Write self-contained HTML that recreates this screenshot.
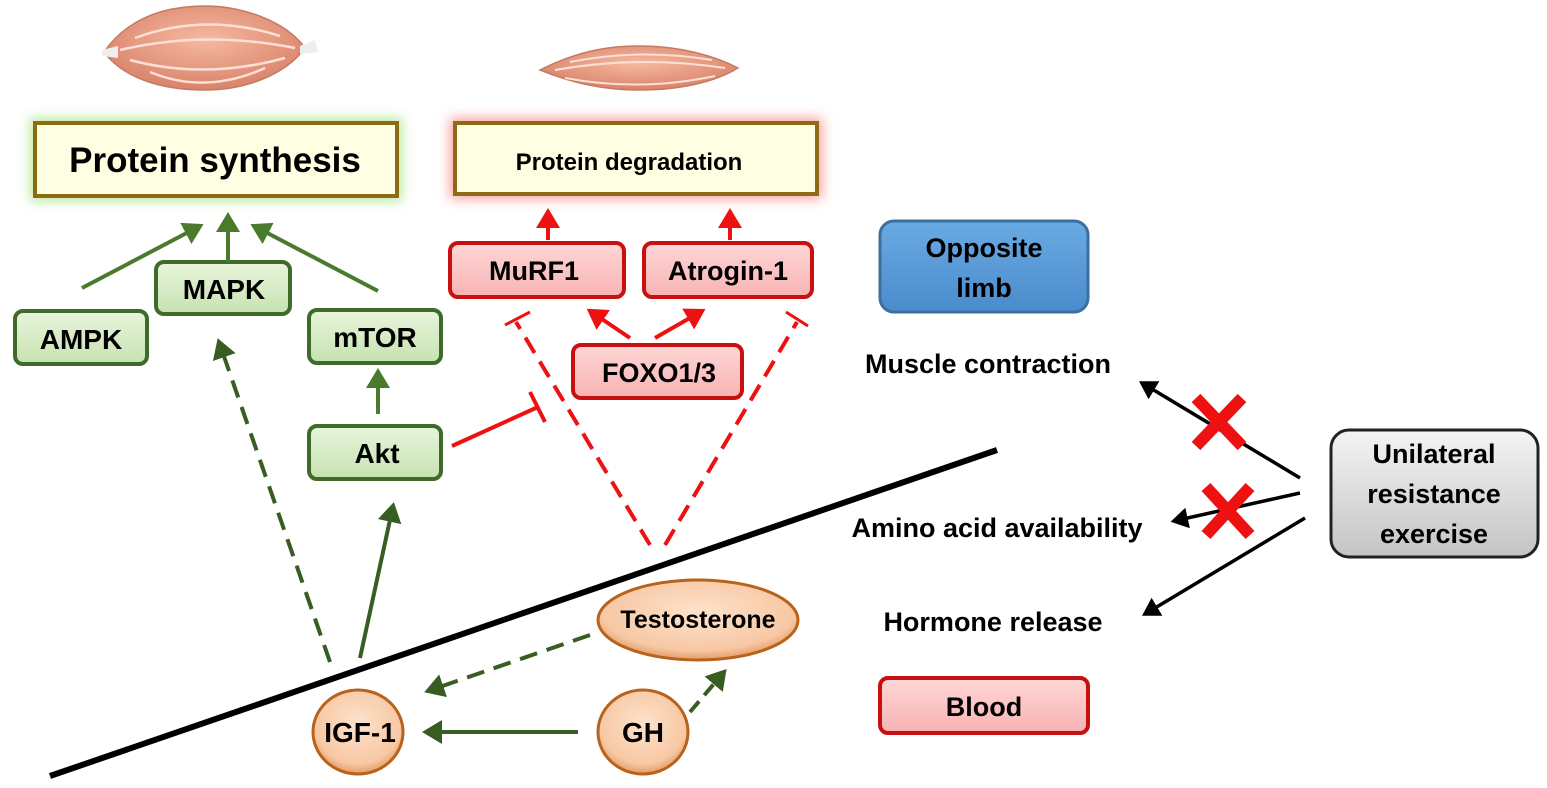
<!DOCTYPE html>
<html><head><meta charset="utf-8"><style>
html,body{margin:0;padding:0;background:#fff;}
svg{display:block;font-family:"Liberation Sans",Arial,sans-serif;font-weight:bold;}
</style></head><body>
<svg width="1547" height="788" viewBox="0 0 1547 788" xmlns="http://www.w3.org/2000/svg">
<defs>
<radialGradient id="mus" cx="50%" cy="40%" r="60%"><stop offset="0" stop-color="#f6b9a0"/><stop offset="1" stop-color="#d9826a"/></radialGradient>
<linearGradient id="gr" x1="0" y1="0" x2="0" y2="1"><stop offset="0" stop-color="#e8f5dc"/><stop offset="1" stop-color="#c6e2b0"/></linearGradient>
<linearGradient id="rd" x1="0" y1="0" x2="0" y2="1"><stop offset="0" stop-color="#ffd6d6"/><stop offset="1" stop-color="#f7b3b3"/></linearGradient>
<linearGradient id="gy" x1="0" y1="0" x2="0" y2="1"><stop offset="0" stop-color="#f4f4f4"/><stop offset="1" stop-color="#c4c4c4"/></linearGradient>
<linearGradient id="bl" x1="0" y1="0" x2="0" y2="1"><stop offset="0" stop-color="#6aaae3"/><stop offset="1" stop-color="#4a8bcc"/></linearGradient>
<radialGradient id="ov" cx="50%" cy="40%" r="60%"><stop offset="0" stop-color="#fde2cc"/><stop offset="0.8" stop-color="#f7c8a4"/><stop offset="1" stop-color="#e59a62"/></radialGradient>
<filter id="gg" x="-20%" y="-40%" width="140%" height="180%"><feGaussianBlur stdDeviation="6"/></filter>
<marker id="ag" markerWidth="6" markerHeight="6" refX="4" refY="3" orient="auto" markerUnits="strokeWidth"><path d="M0,0 L5,3 L0,6 z" fill="#4a7a2c"/></marker>
<marker id="agd" markerWidth="6" markerHeight="6" refX="4" refY="3" orient="auto" markerUnits="strokeWidth"><path d="M0,0 L5,3 L0,6 z" fill="#385d23"/></marker>
<marker id="ar" markerWidth="6" markerHeight="6" refX="4" refY="3" orient="auto" markerUnits="strokeWidth"><path d="M0,0 L5,3 L0,6 z" fill="#ee1111"/></marker>
<marker id="ab" markerWidth="6" markerHeight="6" refX="4" refY="3" orient="auto" markerUnits="strokeWidth"><path d="M0,0 L5,3 L0,6 z" fill="#000"/></marker>
</defs>

<!-- muscles -->
<g>
<path d="M104,52 C130,15 170,6 205,6 C240,6 285,20 305,48 C285,75 245,90 205,90 C165,90 125,80 104,52 z" fill="url(#mus)" stroke="#c77a62" stroke-width="1.5"/>
<path d="M102,50 L118,46 L118,58 L102,56 z M300,46 L315,40 L318,52 L300,54z" fill="#eee"/>
<path d="M120,50 Q205,30 295,48 M135,38 Q205,12 280,36 M130,60 Q205,80 285,58 M150,72 Q205,95 265,68" stroke="#fbe0d4" stroke-width="2.5" fill="none"/>
</g>
<g>
<path d="M540,70 C580,50 610,46 640,46 C680,46 715,56 738,68 C715,82 680,90 640,90 C605,90 575,84 540,70 z" fill="url(#mus)" stroke="#c77a62" stroke-width="1.5"/>
<path d="M555,70 Q640,55 725,68 M570,62 Q640,48 712,60 M565,78 Q640,92 715,76" stroke="#fbe0d4" stroke-width="2" fill="none"/>
</g>

<!-- top boxes -->
<rect x="30" y="118" width="372" height="83" fill="#b9e89a" filter="url(#gg)"/>
<rect x="35" y="123" width="362" height="73" fill="#fefee2" stroke="#8c6b14" stroke-width="4"/>
<text x="215" y="172" font-size="35" text-anchor="middle">Protein synthesis</text>
<rect x="450" y="118" width="372" height="81" fill="#f7a0a0" filter="url(#gg)"/>
<rect x="455" y="123" width="362" height="71" fill="#fefee2" stroke="#8c6b14" stroke-width="4"/>
<text x="629" y="170" font-size="24" text-anchor="middle">Protein degradation</text>

<!-- green boxes -->
<g stroke="#3f6b2a" stroke-width="4" fill="url(#gr)">
<rect x="156" y="262" width="134" height="52" rx="8"/>
<rect x="15" y="311" width="132" height="53" rx="8"/>
<rect x="309" y="310" width="132" height="53" rx="8"/>
<rect x="309" y="426" width="132" height="53" rx="8"/>
</g>
<g font-size="28" text-anchor="middle">
<text x="224" y="299">MAPK</text>
<text x="81" y="349">AMPK</text>
<text x="375" y="347">mTOR</text>
<text x="377" y="463">Akt</text>
</g>

<!-- red boxes -->
<g stroke="#c81010" stroke-width="4" fill="url(#rd)">
<rect x="450" y="243" width="174" height="54" rx="8"/>
<rect x="644" y="243" width="168" height="54" rx="8"/>
<rect x="573" y="345" width="169" height="53" rx="8"/>
<rect x="880" y="678" width="208" height="55" rx="8"/>
</g>
<g font-size="27" text-anchor="middle">
<text x="534" y="280">MuRF1</text>
<text x="728" y="280">Atrogin-1</text>
<text x="659" y="382">FOXO1/3</text>
<text x="984" y="716">Blood</text>
</g>

<rect x="880" y="221" width="208" height="91" rx="14" fill="url(#bl)" stroke="#3d6f9e" stroke-width="3"/>
<text x="984" y="257" font-size="27" text-anchor="middle">Opposite</text>
<text x="984" y="297" font-size="27" text-anchor="middle">limb</text>

<rect x="1331" y="430" width="207" height="127" rx="18" fill="url(#gy)" stroke="#222" stroke-width="3"/>
<g font-size="27" text-anchor="middle">
<text x="1434" y="463">Unilateral</text>
<text x="1434" y="503">resistance</text>
<text x="1434" y="543">exercise</text>
<text x="988" y="373">Muscle contraction</text>
<text x="997" y="537">Amino acid availability</text>
<text x="993" y="631">Hormone release</text>
</g>

<!-- black divider -->
<line x1="50" y1="776" x2="997" y2="450" stroke="#000" stroke-width="6"/>

<!-- green arrows -->
<g stroke="#4a7a2c" stroke-width="4" fill="none">
<line x1="82" y1="288" x2="200" y2="226" marker-end="url(#ag)"/>
<line x1="228" y1="262" x2="228" y2="216" marker-end="url(#ag)"/>
<line x1="378" y1="291" x2="254" y2="226" marker-end="url(#ag)"/>
<line x1="378" y1="414" x2="378" y2="372" marker-end="url(#ag)"/>
<line x1="360" y1="658" x2="393" y2="506" marker-end="url(#agd)" stroke="#385d23"/>
<line x1="330" y1="662" x2="219" y2="342" marker-end="url(#agd)" stroke="#385d23" stroke-dasharray="18,10"/>
<line x1="590" y1="635" x2="428" y2="691" marker-end="url(#agd)" stroke="#385d23" stroke-dasharray="18,10"/>
<line x1="690" y1="712" x2="724" y2="672" marker-end="url(#agd)" stroke="#385d23" stroke-dasharray="14,8"/>
<line x1="578" y1="732" x2="426" y2="732" marker-end="url(#agd)" stroke="#385d23"/>
</g>

<!-- red arrows -->
<g stroke="#ee1111" stroke-width="4" fill="none">
<line x1="548" y1="240" x2="548" y2="212" marker-end="url(#ar)"/>
<line x1="730" y1="240" x2="730" y2="212" marker-end="url(#ar)"/>
<line x1="630" y1="338" x2="590" y2="311" marker-end="url(#ar)"/>
<line x1="655" y1="338" x2="702" y2="311" marker-end="url(#ar)"/>
<line x1="452" y1="446" x2="538" y2="407"/>
<line x1="530" y1="392" x2="545" y2="422"/>
<line x1="650" y1="545" x2="516" y2="322" stroke-dasharray="18,10"/>
<line x1="665" y1="545" x2="797" y2="322" stroke-dasharray="18,10"/>
<line x1="505" y1="325" x2="530" y2="312" stroke-width="3"/>
<line x1="786" y1="312" x2="808" y2="326" stroke-width="3"/>
</g>

<!-- ovals -->
<g fill="url(#ov)" stroke="#b8621c" stroke-width="3">
<ellipse cx="698" cy="620" rx="100" ry="40"/>
<ellipse cx="358" cy="732" rx="45" ry="42"/>
<ellipse cx="643" cy="732" rx="45" ry="42"/>
</g>
<g text-anchor="middle">
<text x="698" y="628" font-size="25">Testosterone</text>
<text x="360" y="742" font-size="28">IGF-1</text>
<text x="643" y="742" font-size="28">GH</text>
</g>

<!-- black arrows -->
<g stroke="#000" stroke-width="3.5" fill="none">
<line x1="1300" y1="478" x2="1142" y2="383" marker-end="url(#ab)"/>
<line x1="1300" y1="493" x2="1174" y2="521" marker-end="url(#ab)"/>
<line x1="1305" y1="518" x2="1145" y2="614" marker-end="url(#ab)"/>
</g>
<g stroke="#ee1111" stroke-width="12">
<line x1="1196" y1="398" x2="1242" y2="446"/><line x1="1242" y1="398" x2="1196" y2="446"/>
<line x1="1206" y1="487" x2="1250" y2="535"/><line x1="1250" y1="487" x2="1206" y2="535"/>
</g>
</svg>
</body></html>
